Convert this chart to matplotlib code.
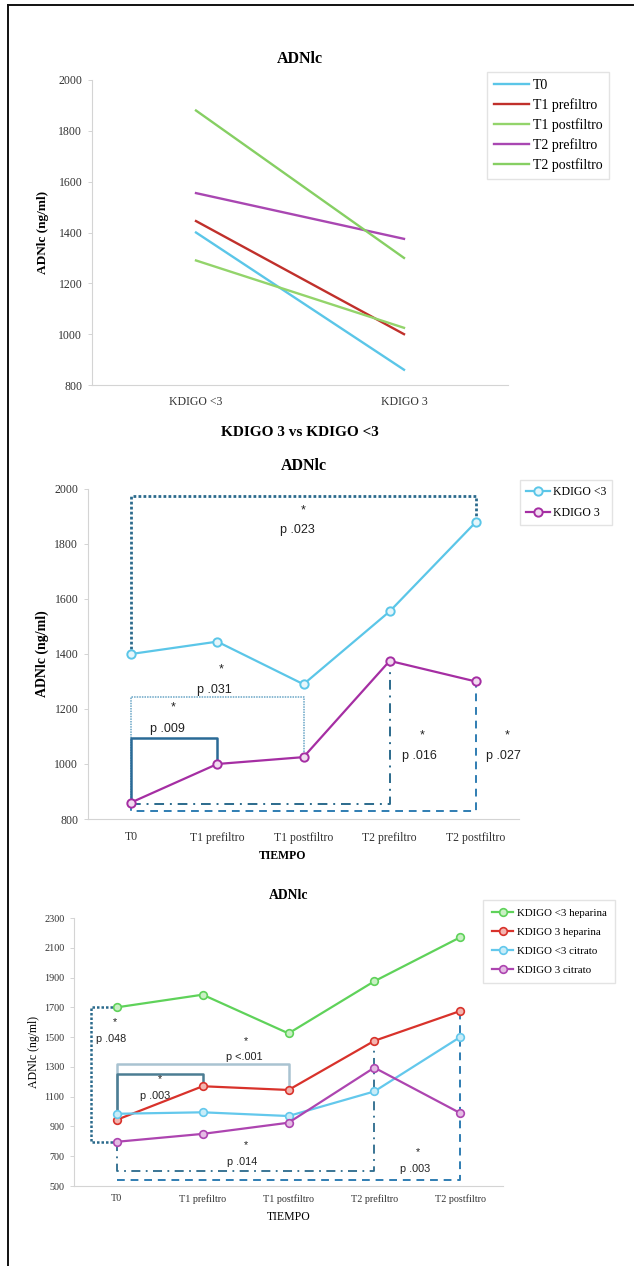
import matplotlib
matplotlib.use("Agg")
import matplotlib.pyplot as plt
from matplotlib.lines import Line2D

SERIF = ["Liberation Serif", "DejaVu Serif"]
SANS = ["Liberation Sans", "DejaVu Sans"]
plt.rcParams["font.family"] = SERIF

# ---------------------------------------------------------------- data
groups = ["KDIGO <3", "KDIGO 3"]
times = ["T0", "T1 prefiltro", "T1 postfiltro", "T2 prefiltro", "T2 postfiltro"]

# mean cfDNA (ng/ml) by AKI stage
kdigo_lt3 = [1400, 1445, 1290, 1555, 1880]
kdigo_3 = [860, 1000, 1025, 1375, 1300]

# by AKI stage and anticoagulation
hep_lt3 = [1700, 1785, 1525, 1875, 2170]
hep_3 = [945, 1170, 1145, 1475, 1675]
cit_lt3 = [985, 995, 970, 1135, 1500]
cit_3 = [797, 850, 925, 1295, 990]

W, H = 638, 1266
fig = plt.figure(figsize=(W / 100, H / 100), dpi=100)


def px_axes(x0, x1, y0, y1):
    return fig.add_axes([x0 / W, 1 - y1 / H, (x1 - x0) / W, (y1 - y0) / H])


def style(ax, ylim, step, tsize):
    ax.set_ylim(*ylim)
    ax.set_yticks(range(ylim[0], ylim[1] + 1, step))
    for s in ("top", "right"):
        ax.spines[s].set_visible(False)
    for s in ("left", "bottom"):
        ax.spines[s].set_color("#d4d4d4")
        ax.spines[s].set_linewidth(0.8)
    ax.tick_params(axis="y", colors="#d4d4d4", labelcolor="#333333",
                   labelsize=tsize, length=3, width=0.7, pad=4)
    ax.tick_params(axis="x", length=0, labelcolor="#333333", labelsize=tsize)


def pnote(ax, x, y, text, size=9):
    ax.text(x, y, text, ha="center", va="center", fontsize=size,
            family=SANS, color="#222222")


def legend(ax, x0, y0, size, spacing, pad, hlen=2.0):
    return fig.legend(*ax.get_legend_handles_labels(), loc="upper left",
                      bbox_to_anchor=(x0 / W, 1 - y0 / H), borderaxespad=0,
                      fontsize=size, frameon=True, fancybox=False,
                      edgecolor="#dddddd", handlelength=hlen,
                      handletextpad=0.3, labelspacing=spacing, borderpad=pad)


# ================================================================ panel 1
ax1 = px_axes(92, 508, 80, 385)
style(ax1, (800, 2000), 200, 8.5)
ax1.set_xlim(-0.5, 1.5)
ax1.set_xticks(range(len(groups)))
ax1.set_xticklabels(groups)
ax1.tick_params(axis="x", pad=8)
p1_colors = ["#5bc6e8", "#c0302b", "#93d46b", "#a947b2", "#86cf63"]
for i, (t, c) in enumerate(zip(times, p1_colors)):
    ax1.plot(range(len(groups)), [kdigo_lt3[i], kdigo_3[i]], color=c,
             lw=1.7, label=t)
ax1.set_title("ADNlc", fontsize=11.5, fontweight="bold", pad=12)
ax1.set_ylabel("ADNlc (ng/ml)", fontsize=9.5, fontweight="bold")
ax1.yaxis.set_label_coords(-0.103, 0.5)
ax1.set_xlabel("KDIGO 3 vs KDIGO <3", fontsize=11, fontweight="bold")
ax1.xaxis.set_label_coords(0.5, -0.135)
legend(ax1, 487, 72, 10, 0.45, 0.5, hlen=2.5)

# ================================================================ panel 2
ax2 = px_axes(88, 519, 489, 819)
style(ax2, (800, 2000), 200, 8.5)
ax2.set_xlim(-0.5, 4.5)
ax2.set_xticks(range(len(times)))
ax2.set_xticklabels(times)
ax2.tick_params(axis="x", pad=9)
x = list(range(len(times)))
ax2.plot(x, kdigo_lt3, color="#5bc6e8", lw=1.6, marker="o", ms=6,
         mfc="#e6f6fb", mec="#5bc6e8", mew=1.4, label="KDIGO <3", zorder=4)
ax2.plot(x, kdigo_3, color="#a52ea3", lw=1.6, marker="o", ms=6,
         mfc="#f1dcf0", mec="#a52ea3", mew=1.4, label="KDIGO 3", zorder=4)

dark = "#2b6a8c"
mid = "#2f7db2"
# T0 vs T2 postfiltro, KDIGO <3
ax2.plot([0, 0, 4, 4], [kdigo_lt3[0], 1975, 1975, kdigo_lt3[4]],
         color=dark, lw=2, ls=(0, (1, 0.8)), zorder=2)
# T0 vs T1 postfiltro, KDIGO 3
ax2.plot([0, 0, 2, 2], [kdigo_3[0], 1245, 1245, kdigo_3[2]],
         color="#6aa6c6", lw=1.1, ls=(0, (1, 0.7)), zorder=2)
# T0 vs T1 prefiltro, KDIGO 3
ax2.plot([0, 0, 1, 1], [kdigo_3[0], 1095, 1095, kdigo_3[1]],
         color="#2a6a96", lw=1.8, zorder=3)
# T0 vs T2 prefiltro, KDIGO 3
ax2.plot([0, 3, 3], [855, 855, kdigo_3[3]],
         color=dark, lw=1.4, ls=(0, (5, 3, 1, 3)), zorder=2)
# T0 vs T2 postfiltro, KDIGO 3
ax2.plot([0, 0, 4, 4], [kdigo_3[0], 830, 830, kdigo_3[4]],
         color=mid, lw=1.4, ls=(0, (4, 3)), zorder=2)

pnote(ax2, 2.0, 1922, "*")
pnote(ax2, 1.93, 1850, "p .023")
pnote(ax2, 1.05, 1343, "*")
pnote(ax2, 0.97, 1270, "p .031")
pnote(ax2, 0.49, 1204, "*")
pnote(ax2, 0.42, 1128, "p .009")
pnote(ax2, 3.38, 1104, "*")
pnote(ax2, 3.35, 1029, "p .016")
pnote(ax2, 4.36, 1104, "*")
pnote(ax2, 4.32, 1029, "p .027")

ax2.set_title("ADNlc", fontsize=11.5, fontweight="bold", pad=14)
ax2.set_ylabel("ADNlc (ng/ml)", fontsize=10, fontweight="bold")
ax2.yaxis.set_label_coords(-0.09, 0.5)
ax2.set_xlabel("TIEMPO", fontsize=8.5, fontweight="bold")
ax2.xaxis.set_label_coords(0.452, -0.095)
legend(ax2, 520, 480, 8.5, 0.75, 0.5)

# ================================================================ panel 3
ax3 = px_axes(74, 503, 918, 1186)
style(ax3, (500, 2300), 200, 7.3)
ax3.set_xlim(-0.5, 4.5)
ax3.set_xticks(range(len(times)))
ax3.set_xticklabels(times)
ax3.tick_params(axis="x", pad=6)

series3 = [
    (hep_lt3, "#5fd25a", "#c9f0c4", "KDIGO <3 heparina"),
    (hep_3, "#d8322b", "#f3b5b0", "KDIGO 3 heparina"),
    (cit_lt3, "#63c8ec", "#c8ecf8", "KDIGO <3 citrato"),
    (cit_3, "#ad45b0", "#e4bce4", "KDIGO 3 citrato"),
]
for vals, c, fc, lab in series3:
    ax3.plot(x, vals, color=c, lw=1.6, marker="o", ms=5.5, mfc=fc, mec=c,
             mew=1.2, label=lab, zorder=4)

# T0: KDIGO <3 heparina vs KDIGO 3 citrato
ax3.plot([0, -0.3, -0.3, 0], [hep_lt3[0], hep_lt3[0], cit_3[0], cit_3[0]],
         color=dark, lw=1.8, ls=(0, (1, 0.8)), zorder=2)
# KDIGO 3 heparina, T0 vs T1 postfiltro
ax3.plot([0, 0, 2, 2], [hep_3[0], 1320, 1320, hep_3[2]],
         color="#a9c3d1", lw=1.8, zorder=2)
# KDIGO 3 heparina, T0 vs T1 prefiltro
ax3.plot([0, 0, 1, 1], [hep_3[0], 1250, 1250, hep_3[1]],
         color="#4c7d93", lw=1.8, zorder=3)
# T0 vs T2 prefiltro
ax3.plot([0, 0, 3, 3], [cit_3[0], 600, 600, hep_3[3]],
         color=dark, lw=1.3, ls=(0, (5, 3, 1, 3)), zorder=2)
# T0 vs T2 postfiltro
ax3.plot([0, 4, 4], [540, 540, hep_3[4]],
         color=mid, lw=1.4, ls=(0, (4, 3)), zorder=2)

pnote(ax3, -0.02, 1600, "*", 7.8)
pnote(ax3, -0.07, 1488, "p .048", 7.8)
pnote(ax3, 1.5, 1476, "*", 7.8)
pnote(ax3, 1.48, 1364, "p <.001", 7.8)
pnote(ax3, 0.5, 1218, "*", 7.8)
pnote(ax3, 0.45, 1106, "p .003", 7.8)
pnote(ax3, 1.5, 776, "*", 7.8)
pnote(ax3, 1.46, 664, "p .014", 7.8)
pnote(ax3, 3.51, 729, "*", 7.8)
pnote(ax3, 3.47, 617, "p .003", 7.8)

ax3.set_title("ADNlc", fontsize=9.8, fontweight="bold", pad=14)
ax3.set_ylabel("ADNlc (ng/ml)", fontsize=8.5)
ax3.yaxis.set_label_coords(-0.08, 0.5)
ax3.set_xlabel("TIEMPO", fontsize=8.5)
ax3.xaxis.set_label_coords(0.5, -0.095)
legend(ax3, 483, 900, 7.8, 0.85, 0.8)

# page frame (top and left rule)
fig.add_artist(Line2D([8 / W, 633 / W], [1 - 5 / H, 1 - 5 / H],
                      color="#111111", lw=1.4, transform=fig.transFigure))
fig.add_artist(Line2D([8 / W, 8 / W], [0, 1 - 5 / H],
                      color="#111111", lw=1.4, transform=fig.transFigure))

fig.savefig("out.png", dpi=100, facecolor="white")
